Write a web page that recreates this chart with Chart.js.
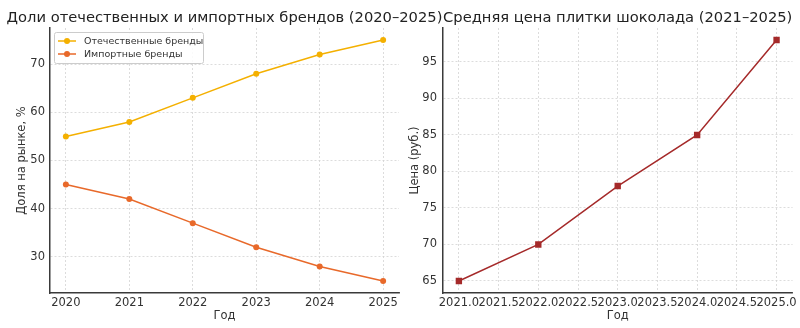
<!DOCTYPE html>
<html>
<head>
<meta charset="utf-8">
<script src="https://cdn.jsdelivr.net/npm/chart.js@4"></script>
<style>
  body { margin: 0; background: #fff; }
  #wrap { position: relative; width: 800px; height: 328px; overflow: hidden; }
  canvas { position: absolute; top: 0; }
  #shareChart { left: 0; }
  #priceChart { left: 400px; }
</style>
</head>
<body>
<div id="wrap">
  <canvas id="shareChart" width="460" height="328"></canvas>
  <canvas id="priceChart" width="400" height="328"></canvas>
</div>
<script>
// Data
const years = [2020, 2021, 2022, 2023, 2024, 2025];
const domesticShare = [55, 58, 63, 68, 72, 75];
const importShare = [45, 42, 37, 32, 28, 25];
const shareTicks = [30, 40, 50, 60, 70];

const priceYears = [2021, 2022, 2023, 2024, 2025];
const barPrice = [65, 70, 78, 85, 98];
const priceTicks = [65, 70, 75, 80, 85, 90, 95];
const priceYearTicks = [2021.0, 2021.5, 2022.0, 2022.5, 2023.0, 2023.5, 2024.0, 2024.5, 2025.0];

const seriesNames = ['Отечественные бренды', 'Импортные бренды'];
const titles = ['Доли отечественных и импортных брендов (2020–2025)', 'Средняя цена плитки шоколада (2021–2025)'];

const FONT = "'DejaVu Sans', sans-serif";
const TEXT = '#333333';
const GRID = '#d4d4d4';
const SPINE = '#3a3a3a';

Chart.defaults.font.family = FONT;
Chart.defaults.color = TEXT;

// Title drawn centred over the plot area (it may run past the canvas half)
const titlePlugin = {
    id: 'plotTitle',
    afterDraw(chart, args, opts) {
        const { ctx, chartArea } = chart;
        ctx.save();
        ctx.font = `14.7px ${FONT}`;
        ctx.fillStyle = '#222';
        ctx.textAlign = 'center';
        ctx.textBaseline = 'alphabetic';
        ctx.fillText(opts.text, (chartArea.left + chartArea.right) / 2, 22);
        ctx.restore();
    }
};

// Legend box in the upper-left corner of the plot
const boxLegend = {
    id: 'boxLegend',
    afterDraw(chart) {
        const { ctx, chartArea } = chart;
        const x0 = chartArea.left + 4;
        const y0 = chartArea.top + 4;
        ctx.save();
        ctx.fillStyle = 'rgba(255,255,255,0.85)';
        ctx.strokeStyle = '#cccccc';
        ctx.lineWidth = 1;
        ctx.beginPath();
        ctx.roundRect(x0 + 0.5, y0 + 0.5, 149, 31, 2);
        ctx.fill();
        ctx.stroke();
        ctx.font = `9.5px ${FONT}`;
        ctx.textBaseline = 'middle';
        chart.data.datasets.forEach((ds, i) => {
            const y = y0 + 9 + i * 13;
            ctx.strokeStyle = ds.borderColor;
            ctx.lineWidth = 1.5;
            ctx.beginPath();
            ctx.moveTo(x0 + 4, y);
            ctx.lineTo(x0 + 22, y);
            ctx.stroke();
            ctx.fillStyle = ds.borderColor;
            ctx.beginPath();
            ctx.arc(x0 + 13, y, 3, 0, Math.PI * 2);
            ctx.fill();
            ctx.fillStyle = TEXT;
            ctx.fillText(ds.label, x0 + 30, y + 0.5);
        });
        ctx.restore();
    }
};

function gridOpts() {
    return { color: GRID, lineWidth: 0.8, drawTicks: false };
}
function borderOpts() {
    return { color: SPINE, width: 1.5, dash: [2, 2] };
}

new Chart(document.getElementById('shareChart'), {
    type: 'line',
    data: {
        datasets: [
            {
                label: seriesNames[0],
                data: years.map((y, i) => ({ x: y, y: domesticShare[i] })),
                borderColor: '#f4b000',
                backgroundColor: '#f4b000',
                borderWidth: 1.5,
                pointRadius: 3,
                pointBorderWidth: 0,
                tension: 0
            },
            {
                label: seriesNames[1],
                data: years.map((y, i) => ({ x: y, y: importShare[i] })),
                borderColor: '#e8692a',
                backgroundColor: '#e8692a',
                borderWidth: 1.5,
                pointRadius: 3,
                pointBorderWidth: 0,
                tension: 0
            }
        ]
    },
    options: {
        responsive: false,
        animation: false,
        devicePixelRatio: 1,
        layout: { padding: { top: 28, right: 61, left: 0, bottom: 0 } },
        plugins: {
            legend: { display: false },
            tooltip: { enabled: false },
            plotTitle: { text: titles[0] }
        },
        scales: {
            x: {
                type: 'linear',
                min: 2019.75,
                max: 2025.25,
                afterBuildTicks: s => { s.ticks = years.map(v => ({ value: v })); },
                afterFit: s => { s.height = 35; },
                ticks: { padding: 3, font: { size: 11.5 }, autoSkip: false, maxRotation: 0, callback: v => String(v) },
                grid: gridOpts(),
                border: borderOpts(),
                title: { display: true, text: 'Год', font: { size: 11.5 }, padding: { top: 0, bottom: 5 } }
            },
            y: {
                min: 22.5,
                max: 77.5,
                afterBuildTicks: s => { s.ticks = shareTicks.map(v => ({ value: v })); },
                afterFit: s => { s.width = 50; },
                ticks: { padding: 5, font: { size: 11.5 } },
                grid: gridOpts(),
                border: borderOpts(),
                title: { display: true, text: 'Доля на рынке, %', font: { size: 11.5 }, padding: { top: 15, bottom: 0 } }
            }
        }
    },
    plugins: [titlePlugin, boxLegend]
});

new Chart(document.getElementById('priceChart'), {
    type: 'line',
    data: {
        datasets: [
            {
                label: 'Цена',
                data: priceYears.map((y, i) => ({ x: y, y: barPrice[i] })),
                borderColor: '#a52a2a',
                backgroundColor: '#a52a2a',
                borderWidth: 1.5,
                pointStyle: 'rect',
                pointRadius: 4.5,
                pointBorderWidth: 0,
                tension: 0
            }
        ]
    },
    options: {
        responsive: false,
        animation: false,
        devicePixelRatio: 1,
        layout: { padding: { top: 28, right: 7, left: 0, bottom: 0 } },
        plugins: {
            legend: { display: false },
            tooltip: { enabled: false },
            plotTitle: { text: titles[1] }
        },
        scales: {
            x: {
                type: 'linear',
                min: 2020.8,
                max: 2025.2,
                afterBuildTicks: s => { s.ticks = priceYearTicks.map(v => ({ value: v })); },
                afterFit: s => { s.height = 35; },
                ticks: { padding: 3, font: { size: 11.5 }, autoSkip: false, maxRotation: 0, callback: v => v.toFixed(1) },
                grid: gridOpts(),
                border: borderOpts(),
                title: { display: true, text: 'Год', font: { size: 11.5 }, padding: { top: 0, bottom: 5 } }
            },
            y: {
                min: 63.35,
                max: 99.65,
                afterBuildTicks: s => { s.ticks = priceTicks.map(v => ({ value: v })); },
                afterFit: s => { s.width = 43; },
                ticks: { padding: 6, font: { size: 11.5 } },
                grid: gridOpts(),
                border: borderOpts(),
                title: { display: true, text: 'Цена (руб.)', font: { size: 11.5 }, padding: { top: 8, bottom: 0 } }
            }
        }
    },
    plugins: [titlePlugin]
});
</script>
</body>
</html>
